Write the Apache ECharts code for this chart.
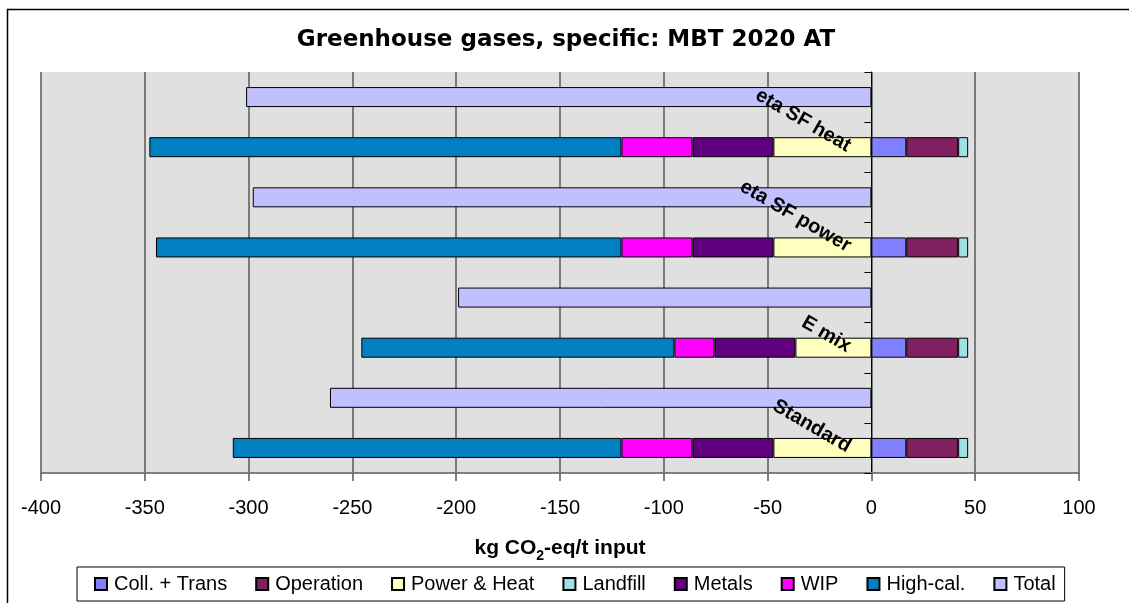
<!DOCTYPE html>
<html>
<head>
<meta charset="utf-8">
<script src="https://cdn.jsdelivr.net/npm/echarts@6/dist/echarts.min.js"></script>
<style>
  html, body { margin: 0; padding: 0; background: #fff; }
  #chart { width: 1129px; height: 603px; }
</style>
</head>
<body>
<div id="chart"></div>
<script>
// ---- data (kg CO2-eq / t input) ----
const scenarios = ['Standard', 'E mix', 'eta SF power', 'eta SF heat'];
const collTrans  = [16.8, 16.8, 16.8, 16.8];
const operation  = [25.0, 25.0, 25.0, 25.0];
const powerHeat  = [-47.2, -36.6, -47.2, -47.2];
const landfill   = [4.8, 4.8, 4.8, 4.8];
const metals     = [-39.0, -39.0, -39.0, -39.0];
const wip        = [-34.2, -19.3, -34.2, -34.2];
const highCal    = [-187.2, -150.8, -224.2, -227.4];
const total      = [-260.8, -199.1, -298.0, -301.2];
const xTicks     = [-400, -350, -300, -250, -200, -150, -100, -50, 0, 50, 100];

const seriesNames = ['Coll. + Trans', 'Operation', 'Power & Heat', 'Landfill', 'Metals', 'WIP', 'High-cal.', 'Total'];
const seriesColors = ['#8080FF', '#802060', '#FFFFC0', '#A0E0E0', '#600080', '#FF00FF', '#0080C0', '#C0C0FF'];

// each scenario occupies two rows: breakdown row (labelled) and total row above it
const yCats = [];
scenarios.forEach(s => { yCats.push(s); yCats.push('Total ' + s); });

function breakdownRows(arr) {
  const out = [];
  arr.forEach(v => { out.push(v); out.push('-'); });
  return out;
}
function totalRows(arr) {
  const out = [];
  arr.forEach(v => { out.push('-'); out.push(v); });
  return out;
}

const seriesData = [
  breakdownRows(collTrans),
  breakdownRows(operation),
  breakdownRows(powerHeat),
  breakdownRows(landfill),
  breakdownRows(metals),
  breakdownRows(wip),
  breakdownRows(highCal),
  totalRows(total)
];

const FONT = '"Liberation Sans", Arial, sans-serif';

const chart = echarts.init(document.getElementById('chart'), null, { renderer: 'canvas' });

const barSeries = seriesNames.map((name, k) => ({
  name: name,
  type: 'bar',
  stack: 'all',
  barWidth: 20,
  data: seriesData[k],
  itemStyle: { color: seriesColors[k], borderColor: '#000', borderWidth: 1 },
  emphasis: { disabled: true }
}));

// category labels drawn at the zero line (like the axis labels of the original)
const labelSeries = {
  name: 'scenario labels',
  type: 'scatter',
  symbolSize: 0,
  silent: true,
  z: 10,
  itemStyle: { opacity: 1 },
  data: scenarios.map(s => ({ value: [0, s], name: s })),
  label: {
    show: true,
    position: 'left',
    distance: 22,
    rotate: -30,
    align: 'right',
    verticalAlign: 'middle',
    opacity: 1,
    fontFamily: FONT, fontSize: 20, fontWeight: 'bold', color: '#000',
    formatter: p => p.name
  },
  emphasis: { disabled: true }
};

chart.setOption({
  animation: false,
  backgroundColor: '#ffffff',
  graphic: [{
    type: 'polyline',
    shape: { points: [[7.5, 800], [7.5, 9.5], [1300, 9.5]] },
    style: { fill: null, stroke: '#000', lineWidth: 1.5 },
    silent: true,
    z: 100
  }],
  title: {
    text: 'Greenhouse gases, specific: MBT 2020 AT',
    left: 561,
    textAlign: 'center',
    top: 24,
    textStyle: { fontFamily: '"DejaVu Sans", sans-serif', fontWeight: 'bold', fontSize: 23, color: '#000' }
  },
  grid: {
    left: 41, right: 50, top: 72, bottom: 130,
    outerBoundsMode: 'none',
    containLabel: false,
    show: true, backgroundColor: '#E0E0E0', borderWidth: 0
  },
  legend: {
    data: seriesNames,
    left: 77, top: 567,
    orient: 'horizontal',
    itemWidth: 12, itemHeight: 12, itemGap: 28,
    padding: [7, 9, 7, 17],
    borderColor: '#000', borderWidth: 1,
    icon: 'rect',
    textStyle: { fontFamily: FONT, fontSize: 20, color: '#000', padding: [0, 0, 0, 2] },
    selectedMode: false
  },
  xAxis: {
    type: 'value',
    min: -400, max: 100, interval: 50,
    axisLine: { show: true, lineStyle: { color: '#808080', width: 2 } },
    axisTick: { show: true, length: 8, lineStyle: { color: '#555', width: 1.5 } },
    axisLabel: { fontFamily: FONT, fontSize: 20, color: '#000', margin: 25,
      formatter: v => xTicks.indexOf(v) >= 0 ? String(v) : '' },
    splitLine: { show: true, lineStyle: { color: '#5a5a5a', width: 1.5 } },
    name: '{b|kg CO}{s|2}{b|-eq/t input}',
    nameLocation: 'middle',
    nameGap: 60,
    nameTextStyle: {
      rich: {
        b: { fontFamily: FONT, fontWeight: 'bold', fontSize: 21, color: '#000', lineHeight: 30 },
        s: { fontFamily: FONT, fontWeight: 'bold', fontSize: 14, color: '#000', lineHeight: 14, padding: [16, 0, 0, 0] }
      }
    }
  },
  yAxis: {
    type: 'category',
    data: yCats,
    axisLine: { show: true, onZero: true, lineStyle: { color: '#000', width: 1 } },
    axisTick: { show: true, inside: false, length: 7, interval: 0, lineStyle: { color: '#000', width: 1 } },
    axisLabel: { show: false },
    splitLine: { show: false }
  },
  series: barSeries.concat([labelSeries])
});
</script>
</body>
</html>
